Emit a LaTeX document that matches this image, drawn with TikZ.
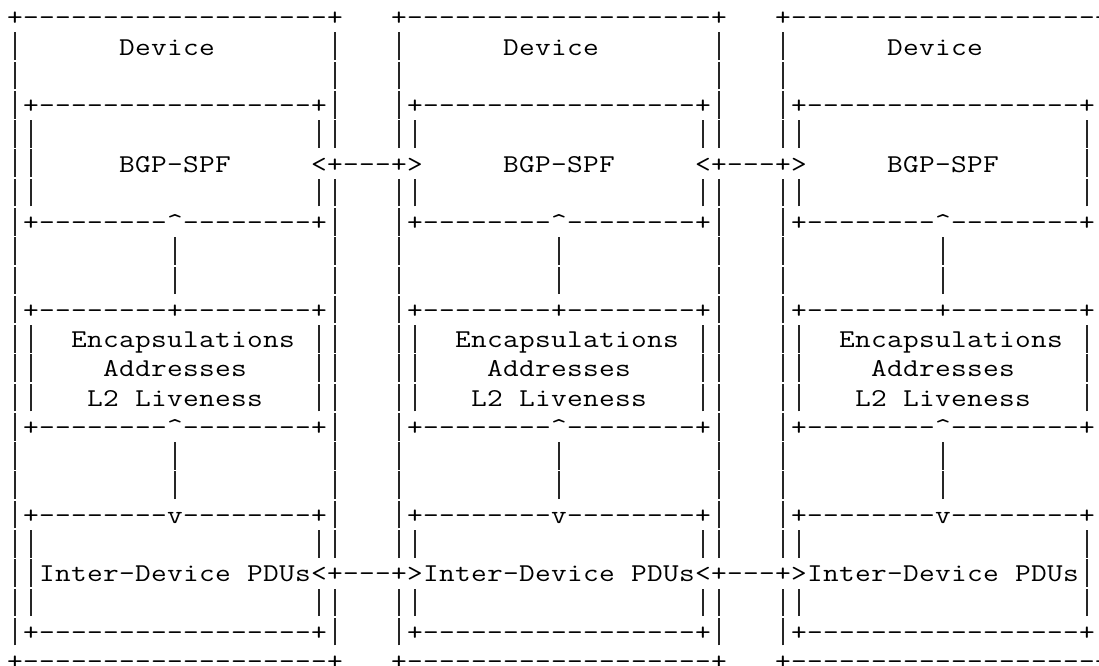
\documentclass[tikz,border=0pt]{standalone}
\usepackage{fontspec}
\setmonofont{Latin Modern Mono}[FakeStretch=1.1858]
% box rows: '.' = space, '|' = bar, '@' = caret
\newcommand\bxTop{+-------------------+}
\newcommand\bxDev{|......Device.......|}
\newcommand\bxEmp{|...................|}
\newcommand\bxInT{|+-----------------+|}
\newcommand\bxInE{||.................||}
\newcommand\bxUp{|+--------@--------+|}
\newcommand\bxBar{|.........|.........|}
\newcommand\bxMid{|+--------+--------+|}
\newcommand\bxEnc{||..Encapsulations.||}
\newcommand\bxAdr{||....Addresses....||}
\newcommand\bxLiv{||...L2.Liveness...||}
\newcommand\bxDn{|+--------v--------+|}
\newcommand\gpS{...}
\newcommand\cellput[1]{\makebox[16pt][c]{\ifx#1|{\color{black!85}\rule[-5pt]{1.5pt}{27.6pt}}\else\ifx#1@\textasciicircum\else\ifx#1.\else#1\fi\fi\fi}}
\def\cellnext#1{\ifx#1\relax\else\cellput{#1}\expandafter\cellnext\fi}
\newcommand\cellrow[1]{\edef\rowtmp{#1}\expandafter\cellnext\rowtmp\relax}
\tikzset{asc/.style={anchor=base west, inner sep=0pt, outer sep=0pt, font=\ttfamily\fontsize{25.7pt}{29pt}\selectfont, text=black}}
\begin{document}
\begin{tikzpicture}[x=1pt,y=1pt]
\useasboundingbox (0,0) rectangle (1099,-665);
\node[asc] (r0) at (7,-25.73) {\cellrow{\bxTop\gpS\bxTop\gpS\bxTop}};
\node[asc] (r1) at (7,-55.00) {\cellrow{\bxDev\gpS\bxDev\gpS\bxDev}};
\node[asc] (r2) at (7,-84.27) {\cellrow{\bxEmp\gpS\bxEmp\gpS\bxEmp}};
\node[asc] (r3) at (7,-113.54) {\cellrow{\bxInT\gpS\bxInT\gpS\bxInT}};
\node[asc] (r4) at (7,-142.81) {\cellrow{\bxInE\gpS\bxInE\gpS\bxInE}};
\node[asc] (r5) at (7,-172.08) {\cellrow{||.....BGP-SPF.....<+---+>.....BGP-SPF.....<+---+>.....BGP-SPF.....||}};
\node[asc] (r6) at (7,-201.35) {\cellrow{\bxInE\gpS\bxInE\gpS\bxInE}};
\node[asc] (r7) at (7,-230.62) {\cellrow{\bxUp\gpS\bxUp\gpS\bxUp}};
\node[asc] (r8) at (7,-259.89) {\cellrow{\bxBar\gpS\bxBar\gpS\bxBar}};
\node[asc] (r9) at (7,-289.16) {\cellrow{\bxBar\gpS\bxBar\gpS\bxBar}};
\node[asc] (r10) at (7,-318.43) {\cellrow{\bxMid\gpS\bxMid\gpS\bxMid}};
\node[asc] (r11) at (7,-347.70) {\cellrow{\bxEnc\gpS\bxEnc\gpS\bxEnc}};
\node[asc] (r12) at (7,-376.97) {\cellrow{\bxAdr\gpS\bxAdr\gpS\bxAdr}};
\node[asc] (r13) at (7,-406.24) {\cellrow{\bxLiv\gpS\bxLiv\gpS\bxLiv}};
\node[asc] (r14) at (7,-435.51) {\cellrow{\bxUp\gpS\bxUp\gpS\bxUp}};
\node[asc] (r15) at (7,-464.78) {\cellrow{\bxBar\gpS\bxBar\gpS\bxBar}};
\node[asc] (r16) at (7,-494.05) {\cellrow{\bxBar\gpS\bxBar\gpS\bxBar}};
\node[asc] (r17) at (7,-523.32) {\cellrow{\bxDn\gpS\bxDn\gpS\bxDn}};
\node[asc] (r18) at (7,-552.59) {\cellrow{\bxInE\gpS\bxInE\gpS\bxInE}};
\node[asc] (r19) at (7,-581.86) {\cellrow{||Inter-Device.PDUs<+---+>Inter-Device.PDUs<+---+>Inter-Device.PDUs||}};
\node[asc] (r20) at (7,-611.13) {\cellrow{\bxInE\gpS\bxInE\gpS\bxInE}};
\node[asc] (r21) at (7,-640.40) {\cellrow{\bxInT\gpS\bxInT\gpS\bxInT}};
\node[asc] (r22) at (7,-669.67) {\cellrow{\bxTop\gpS\bxTop\gpS\bxTop}};
\end{tikzpicture}
\end{document}
